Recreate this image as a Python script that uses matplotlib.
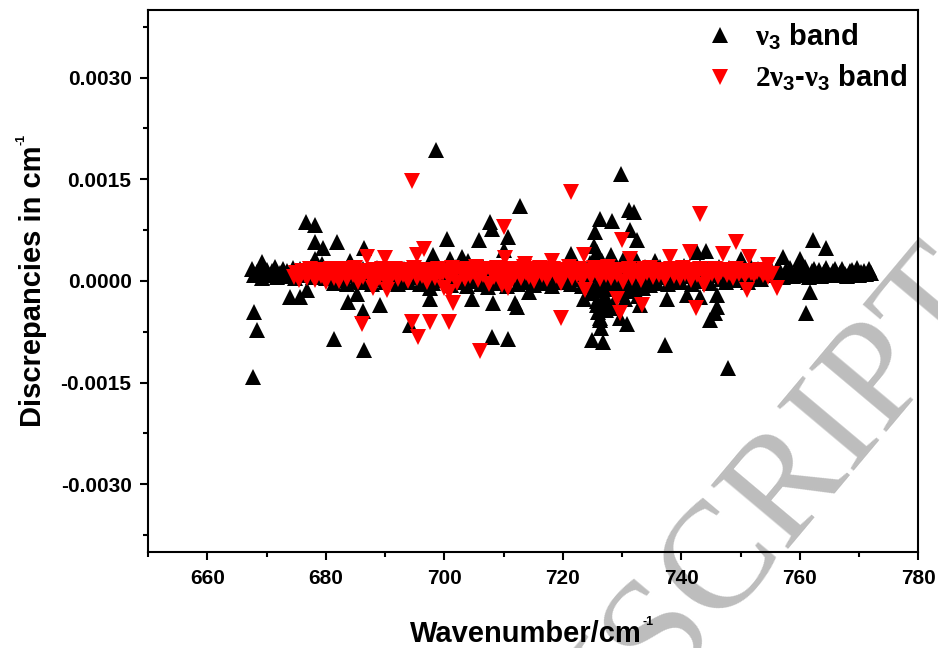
import numpy as np
import matplotlib
matplotlib.use("Agg")
import matplotlib.pyplot as plt
from matplotlib.ticker import MultipleLocator, FormatStrFormatter

plt.rcParams['font.family'] = ['Liberation Sans', 'DejaVu Sans']
plt.rcParams['font.weight'] = 'bold'
plt.rcParams['axes.unicode_minus'] = False
plt.rcParams['mathtext.fontset'] = 'custom'
plt.rcParams['mathtext.rm'] = 'Liberation Serif'
plt.rcParams['mathtext.it'] = 'Liberation Serif:italic'
plt.rcParams['mathtext.bf'] = 'Liberation Sans:bold'

# discrepancies are given in units of 1e-4 cm-1
# nu3 band: dense part of the residuals
v3_band_x = [
    667.5, 667.9, 668.3, 668.8, 669.2, 669.6, 670.1, 670.5, 670.9, 671.4,
    671.8, 672.2, 672.7, 673.1, 673.5, 674.0, 674.4, 674.8, 675.3, 675.7,
    676.1, 676.6, 677.0, 677.4, 677.9, 678.3, 678.7, 679.2, 679.6, 680.0,
    680.5, 680.9, 681.4, 681.8, 682.3, 682.7, 683.2, 683.6, 684.1, 684.5,
    685.0, 685.4, 685.9, 686.3, 686.8, 687.2, 687.7, 688.1, 688.6, 689.0,
    689.5, 689.9, 690.4, 690.8, 691.3, 691.7, 692.2, 692.6, 693.1, 693.5,
    694.0, 694.4, 694.9, 695.3, 695.8, 696.2, 696.7, 697.1, 697.6, 698.0,
    698.5, 698.9, 699.4, 699.8,
    700.2, 700.7, 701.1, 701.6, 702.0, 702.5, 702.9, 703.4, 703.8, 704.3,
    704.7, 705.2, 705.6, 706.1, 706.5, 707.0, 707.4, 707.9, 708.3, 708.8,
    709.2, 709.7, 710.1, 710.6, 711.0, 711.5, 711.9, 712.4, 712.8, 713.3,
    713.7, 714.2, 714.6, 715.1, 715.5, 716.0, 716.4, 716.9, 717.3, 717.8,
    718.2, 718.7, 719.1, 719.6, 720.0, 720.5, 720.9, 721.4, 721.8, 722.3,
    722.7, 723.2, 723.6, 724.1,
    724.5, 724.8, 725.1, 725.4, 725.7, 726.0, 726.3, 726.6, 726.9, 727.2,
    727.5, 727.8, 728.1, 728.4, 728.7, 729.0, 729.3, 729.6, 729.9, 730.2,
    730.5, 730.8, 731.1, 731.4, 731.7, 732.0, 732.3, 732.6, 732.9, 733.2,
    733.5, 733.9, 734.3, 734.7, 735.1,
    724.7, 725.3, 725.9, 726.5, 727.1, 727.7, 728.3, 728.9, 729.5, 730.1,
    730.7, 731.3, 731.9, 732.5, 733.1, 733.7,
    735.5, 735.9, 736.4, 736.8, 737.3, 737.7, 738.2, 738.6, 739.1, 739.5,
    740.0, 740.4, 740.9, 741.3, 741.8, 742.2, 742.7, 743.1, 743.6, 744.0,
    744.5, 744.9, 745.4, 745.8, 746.3, 746.7, 747.2, 747.6, 748.1, 748.5,
    749.0, 749.4, 749.9, 750.3, 750.8, 751.2, 751.7, 752.1, 752.6, 753.0,
    753.5, 753.9, 754.4, 754.8,
    755.2, 755.6, 756.0, 756.4, 756.8, 757.2, 757.6, 758.0, 758.4, 758.8,
    759.2, 759.6, 760.0, 760.4, 760.8, 761.2, 761.6, 762.0, 762.4, 762.8,
    763.2, 763.6, 764.0, 764.4, 764.8, 765.2, 765.6, 766.0, 766.4, 766.8,
    767.2, 767.6, 768.0, 768.4, 768.8, 769.2, 769.6, 770.0, 770.4, 770.8,
    771.2, 771.6, 772.0,
]
v3_band_y = [
    1.7, 0.8, 1.3, 1.9, 0.5, 1.1, 1.6, 0.9, 1.4, 2.0,
    0.6, 1.2, 1.8, 0.7, 1.5, 1.0, 1.9, 0.4, 1.3, 1.7,
    0.8, 1.5, 1.1, 2.0, 0.6, 1.4, 0.9, 1.8, 1.2, 0.5,
    0.6, 1.5, -0.3, 1.0, 1.8, 0.2, 1.3, -0.5, 0.8, 1.6,
    0.0, 1.2, -0.2, 1.7, 0.5, 1.1, -0.4, 0.9, 1.9, 0.3,
    1.4, -0.1, 0.7, 1.6, 0.1, 1.2, -0.5, 1.0, 1.8, 0.4,
    -0.2, 1.3, 0.6, 1.7, -0.4, 0.9, 1.5, 0.0, 1.1, -0.3,
    0.8, 1.9, 0.2, 1.4,
    0.4, 1.6, -0.6, 1.1, 2.0, -0.2, 0.8, 1.4, -0.8, 0.3,
    1.7, 0.0, 1.2, -0.5, 2.1, 0.6, -0.9, 1.0, 1.5, -0.3,
    0.7, 1.9, 0.1, -0.7, 1.3, 0.5, 1.8, -0.4, 0.9, 1.4,
    -0.1, 2.2, 0.6, -0.6, 1.1, 0.2, 1.6, -0.3, 0.8, 2.0,
    -0.8, 0.4, 1.3, -0.2, 0.9, 1.7, 0.0, -0.5, 1.2, 2.1,
    0.3, -0.7, 1.5, 0.6,
    2.6, -1.8, 0.8, 3.4, -3.0, 1.5, -0.6, 2.9, -2.4, 0.3,
    1.9, -1.2, 3.8, -3.4, 0.6, 2.2, -2.0, 1.2, -0.9, 3.1,
    -2.7, 0.9, 2.5, -1.5, 1.7, -0.4, 3.3, -2.2, 0.5, 1.4,
    -1.0, 2.0, 0.2, -0.6, 1.6,
    -0.5, 1.0, -1.4, 0.4, -0.9, 1.3, 0.0, -1.1, 0.7, -0.3,
    1.1, -0.8, 0.2, 1.6, -0.4, 0.6,
    1.2, -0.3, 2.0, 0.6, 1.5, -0.5, 0.9, 1.8, 0.2, 1.3,
    -0.2, 2.2, 0.7, 1.1, -0.4, 1.6, 0.4, 2.0, 0.0, 1.0,
    1.7, -0.3, 0.8, 1.4, 2.1, 0.3, 1.2, -0.1, 1.9, 0.6,
    1.3, 0.1, 1.8, 0.9, 1.5, -0.2, 2.0, 0.5, 1.1, 1.7,
    0.3, 1.4, 0.8, 1.9,
    1.8, 0.8, 1.4, 2.0, 1.0, 0.6, 1.6, 1.2, 1.9, 0.7,
    1.3, 1.7, 0.9, 1.5, 2.0, 1.1, 0.6, 1.4, 1.8, 1.0,
    1.6, 0.7, 1.3, 1.9, 1.1, 0.8, 1.5, 1.7, 0.9, 1.2,
    1.8, 1.0, 0.7, 1.4, 1.6, 1.1, 1.9, 0.8, 1.3, 1.5,
    1.0, 1.7, 1.2,
]
# nu3 band: scattered lines
v3_out_x = [
    698.6, 729.8, 712.8, 731.1, 732.0, 726.3, 728.3, 676.7, 678.1, 707.7,
    708.0, 731.4, 725.5, 710.8, 700.4, 705.8, 762.2, 732.5, 678.1, 681.9,
    725.2, 679.5, 686.4, 764.5, 710.0, 744.2, 725.8, 742.6, 721.3, 757.2,
    760.0, 750.0, 735.6, 684.1, 698.1, 701.0, 703.0, 704.0, 678.2, 679.3,
    669.2, 726.0, 728.5, 730.5,
    674.0, 675.7, 676.8, 683.8, 685.2, 689.2, 686.2, 697.6, 697.6, 667.9,
    668.4, 667.7, 681.4, 686.4, 694.2, 704.6, 708.2, 712.0, 712.2, 714.2,
    708.0, 710.8, 724.9, 726.8, 726.3, 726.5, 725.8, 726.0, 726.3, 729.7,
    730.8, 728.0, 733.0, 723.5, 727.7, 727.2, 761.8, 761.1, 746.0, 746.0,
    744.8, 745.7, 737.6, 740.9, 743.2, 737.3, 747.9,
]
v3_out_y = [
    19.3, 15.8, 11.1, 10.4, 10.1, 9.1, 8.9, 8.7, 8.3, 8.7,
    7.7, 7.5, 7.2, 6.5, 6.2, 6.0, 6.0, 6.0, 5.8, 5.7,
    5.2, 4.9, 4.8, 4.8, 4.5, 4.4, 4.3, 4.3, 4.0, 3.5,
    3.2, 3.3, 3.0, 3.0, 3.8, 3.3, 3.5, 3.0, 3.3, 2.5,
    2.8, 3.0, 2.5, 2.8,
    -2.4, -2.4, -1.3, -3.1, -2.0, -3.6, -4.5, -2.6, -1.1, -4.6,
    -7.3, -14.1, -8.5, -10.2, -6.5, -2.6, -3.2, -3.2, -3.8, -1.6,
    -8.2, -8.5, -8.7, -9.0, -5.5, -7.0, -3.6, -4.6, -5.8, -5.5,
    -6.3, -4.0, -3.5, -2.6, -3.1, -4.3, -1.6, -4.8, -2.1, -3.8,
    -5.8, -4.8, -2.6, -2.1, -2.4, -9.5, -12.9,
]

# 2nu3-nu3 hot band
hot_band_x = [
    674.6, 675.0, 675.5, 675.9, 676.4, 676.8, 677.3, 677.7, 678.2, 678.6,
    679.1, 679.5, 680.0, 680.4, 680.9, 681.3, 681.8, 682.2, 682.7, 683.1,
    683.6, 684.0, 684.5, 684.9, 685.4, 685.8, 686.3, 686.7, 687.2, 687.6,
    688.1, 688.5, 689.0, 689.4, 689.9, 690.3, 690.8, 691.2, 691.7, 692.1,
    692.6, 693.0, 693.5, 693.9, 694.4, 694.8, 695.3, 695.7, 696.2, 696.6,
    697.1, 697.5, 698.0, 698.4, 698.9, 699.3, 699.8,
    700.3, 700.8, 701.2, 701.7, 702.1, 702.6, 703.0, 703.5, 703.9, 704.4,
    704.8, 705.3, 705.7, 706.2, 706.6, 707.1, 707.5, 708.0, 708.4, 708.9,
    709.3, 709.8, 710.2, 710.7, 711.1, 711.6, 712.0, 712.5, 712.9, 713.4,
    713.8, 714.3, 714.7, 715.2, 715.6, 716.1, 716.5, 717.0, 717.4, 717.9,
    718.3, 718.8, 719.2, 719.7, 720.1, 720.6, 721.0, 721.5, 721.9, 722.4,
    722.8, 723.3, 723.7,
    724.2, 724.7, 725.2, 725.7, 726.2, 726.7, 727.2, 727.7, 728.2, 728.7,
    729.2, 729.7, 730.2, 730.7, 731.2, 731.7, 732.2, 732.7, 733.2, 733.7,
    734.2, 734.7, 735.2, 735.7, 736.2, 736.7, 737.2, 737.7, 738.2, 738.7,
    739.2, 739.7, 740.2, 740.7, 741.2, 741.7, 742.2, 742.7, 743.2, 743.7,
    744.2, 744.7, 745.2, 745.7, 746.2, 746.7, 747.2, 747.7, 748.2, 748.7,
    749.2, 749.7, 750.2, 750.7, 751.2, 751.7, 752.2, 752.7, 753.2, 753.7,
    754.2, 754.7, 755.3,
]
hot_band_y = [
    0.6, 1.2, 0.2, 1.5, 0.9, 0.4, 1.7, 1.0, 0.1, 1.3,
    0.7, 1.6, -0.2, 1.1, 1.8, 0.5, 1.4, 0.0, 1.0, 1.7,
    0.3, 1.3, 0.8, 1.9, -0.1, 1.2, 0.6, 1.5, 0.9, 0.2,
    1.6, 1.0, 0.4, 1.8, 1.1, -0.3, 1.4, 0.7, 1.7, 0.3,
    1.2, 0.8, 1.6, 0.0, 1.0, 1.9, 0.5, 1.3, 0.7, 1.6,
    -0.2, 1.1, 1.5, 0.4, 1.8, 0.9, 1.2,
    1.4, 0.5, 1.9, 0.9, -0.3, 1.6, 1.1, 0.3, 1.8, 0.7,
    1.3, 2.0, 0.1, 1.5, 0.8, 1.7, -0.4, 1.2, 0.6, 1.9,
    1.0, 0.2, 1.6, 1.3, -0.2, 1.8, 0.9, 1.4, 0.4, 2.0,
    1.1, 0.6, 1.7, 0.0, 1.3, 1.9, 0.8, 1.5, 0.3, 1.2,
    1.8, 0.7, 1.4, -0.3, 1.0, 1.6, 2.1, 0.5, 1.3, 0.9,
    1.7, 0.2, 1.5,
    1.5, 0.6, 1.9, 1.1, 0.3, 1.7, 0.9, 2.0, 0.4, 1.3,
    0.8, 1.6, -0.2, 1.2, 1.8, 0.5, 1.4, 1.0, 0.2, 1.7,
    1.1, 1.9, 0.6, 1.4, 0.9, 1.6, 0.3, 1.2, 1.8, 0.7,
    1.3, 0.4, 1.9, 1.0, 1.6, 0.2, 1.4, 0.8, 1.7, 1.1,
    0.5, 1.5, 1.0, 1.8, 0.6, 1.3, 1.6, 0.9, 1.2, 0.4,
    1.7, 1.0, 1.4, 0.7, 1.5, 1.1, 0.8, 1.3, 1.6, 0.9,
    1.2, 0.6, 1.0,
]
hot_out_x = [
    694.5, 721.4, 743.2, 710.0, 730.0, 749.3, 696.5, 741.4, 747.0, 695.3,
    723.5, 686.9, 690.0, 710.3, 738.1, 751.5, 731.4, 718.1, 713.6, 754.7,
    686.1, 694.5, 697.5, 695.6, 700.7, 701.5, 699.9, 700.7, 706.0, 719.6,
    723.8, 729.1, 729.7, 733.3, 756.1, 751.0, 742.4, 743.8, 688.0, 690.3,
    709.7, 710.8,
]
hot_out_y = [
    14.7, 13.1, 9.9, 7.9, 6.0, 5.7, 4.7, 4.2, 3.9, 3.8,
    3.8, 3.5, 3.4, 3.4, 3.5, 3.5, 3.3, 3.0, 2.5, 2.3,
    -6.3, -6.0, -6.0, -8.2, -6.0, -3.3, -1.1, -1.6, -10.4, -5.5,
    -1.4, -2.6, -4.8, -3.6, -1.1, -1.4, -4.0, -0.6, -1.1, -1.4,
    -0.6, -1.1,
]

v3_x = np.array(v3_band_x + v3_out_x)
v3_y = np.array(v3_band_y + v3_out_y) * 1e-4
hot_x = np.array(hot_band_x + hot_out_x)
hot_y = np.array(hot_band_y + hot_out_y) * 1e-4

fig = plt.figure(figsize=(9.38, 6.48), dpi=100)
fig.patch.set_facecolor("white")
ax = fig.add_axes([0.158, 0.148, 0.821, 0.837])
ax.set_zorder(1)
ax.patch.set_visible(False)

# journal watermark
fig.text(1.034, 0.575, "ACCEPTED MANUSCRIPT", rotation=50, rotation_mode="anchor",
         ha="right", va="center", fontsize=110, color="#bdbdbd",
         family="Liberation Serif", fontweight="normal", zorder=0)

ax.plot(v3_x, v3_y, linestyle="none", marker="^", ms=11, color="black",
        mec="black", mew=0, label=r"$\mathrm{\nu}_{\mathbf{3}}$ band")
ax.plot(hot_x, hot_y, linestyle="none", marker="v", ms=11, color="red",
        mec="red", mew=0, label=r"$\mathrm{2\nu}_{\mathbf{3}}$-$\mathrm{\nu}_{\mathbf{3}}$ band")

ax.set_xlim(650, 780)
ax.set_ylim(-0.004, 0.004)
ax.set_xticks([660, 680, 700, 720, 740, 760, 780])
ax.xaxis.set_minor_locator(MultipleLocator(10))
ax.yaxis.set_major_locator(MultipleLocator(0.0015))
ax.yaxis.set_minor_locator(MultipleLocator(0.00075))
ax.yaxis.set_major_formatter(FormatStrFormatter("%.4f"))

for s in ax.spines.values():
    s.set_linewidth(1.5)
ax.tick_params(which="both", direction="out", width=1.5, top=False, right=False)
ax.tick_params(which="major", length=6, labelsize=15, pad=6)
ax.tick_params(which="minor", length=3.5)

ax.set_xlabel("Wavenumber/cm", fontsize=21, fontweight="bold", labelpad=23)
ax.set_ylabel("Discrepancies in cm", fontsize=21, fontweight="bold", labelpad=10)
ax.xaxis.label.set_x(0.491)
ax.yaxis.label.set_y(0.49)

# small raised "-1" after the unit, as in the original
ax.annotate("-1", xy=(1, 1), xycoords=ax.xaxis.label, xytext=(0.5, 2.5),
            textcoords="offset points", ha="left", va="top",
            fontsize=9, fontweight="bold")
ax.annotate("-1", xy=(0, 1), xycoords=ax.yaxis.label, xytext=(-2.5, 0.5),
            textcoords="offset points", ha="left", va="bottom", rotation=90,
            fontsize=9, fontweight="bold")

ax.legend(loc="upper right", frameon=False, fontsize=21, handlelength=1.0,
          handletextpad=0.7, labelspacing=0.38, borderaxespad=0.1,
          bbox_to_anchor=(1.005, 1.005))

fig.savefig("out.png", dpi=100)
